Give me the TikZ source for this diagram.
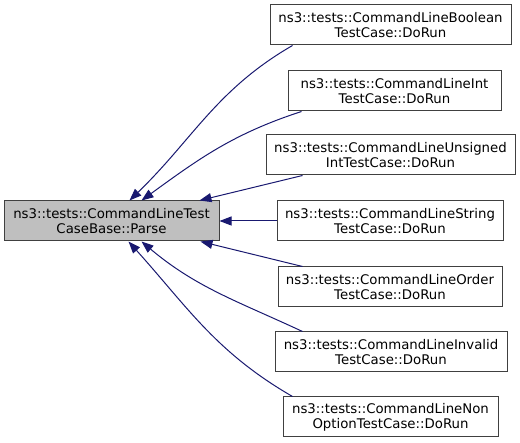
\documentclass[tikz,border=0pt]{standalone}
\usepackage{fontspec}
\setmainfont{DejaVu Sans}
\usetikzlibrary{arrows.meta}
\usetikzlibrary{positioning}
\definecolor{edgeblue}{HTML}{191970}
\tikzstyle{func}=[rectangle,draw=black!75,fill=white,line width=1pt,minimum height=40pt,inner sep=0pt,align=center,font=\fontsize{13.3}{15}\selectfont]
\tikzstyle{rootfunc}=[func,fill=black!25]
\tikzstyle{callarrow}=[draw=edgeblue,line width=1pt,-{Triangle[length=12pt,width=9pt,fill=edgeblue]}]

\begin{document}
\begin{tikzpicture}[x=1pt,y=1pt]
    \useasboundingbox (0,0) rectangle (520,-443);

    \node[rootfunc,minimum width=215pt] (parse) at (111.5,-221) {ns3::tests::CommandLineTest\\CaseBase::Parse};

    \foreach \pos/\name/\w/\first/\second in {{(390.5,-25)/bool/241/Boolean/TestCase}, {(394.5,-91)/int/213/Int/TestCase}, {(390.5,-155)/unsig/249/Unsigned/IntTestCase}, {(390,-221)/str/226/String/TestCase}, {(390,-287)/order/224/Order/TestCase}, {(391,-352)/invalid/232/Invalid/TestCase}, {(390.5,-417)/nonopt/215/Non/OptionTestCase}}
        \node[func,minimum width=\w pt] (\name) at \pos {ns3::tests::CommandLine\first\\\second::DoRun};

    \draw[callarrow] ([xshift=23pt]bool.south west) to[out=210,in=44] ([xshift=18pt]parse.north);
    \draw[callarrow] ([xshift=14pt]int.south west) to[out=198,in=36] ([xshift=30pt]parse.north);
    \draw[callarrow] ([xshift=37pt]unsig.south west) -- ([xshift=-20pt]parse.north east);
    \draw[callarrow] (str.west) -- (parse.east);
    \draw[callarrow] ([xshift=25pt]order.north west) -- ([xshift=-19pt]parse.south east);
    \draw[callarrow] ([xshift=28pt]invalid.north west) to[out=155,in=-40] ([xshift=30pt]parse.south);
    \draw[callarrow] ([xshift=10pt]nonopt.north west) to[out=150,in=-48] ([xshift=17pt]parse.south);
\end{tikzpicture}
\end{document}
